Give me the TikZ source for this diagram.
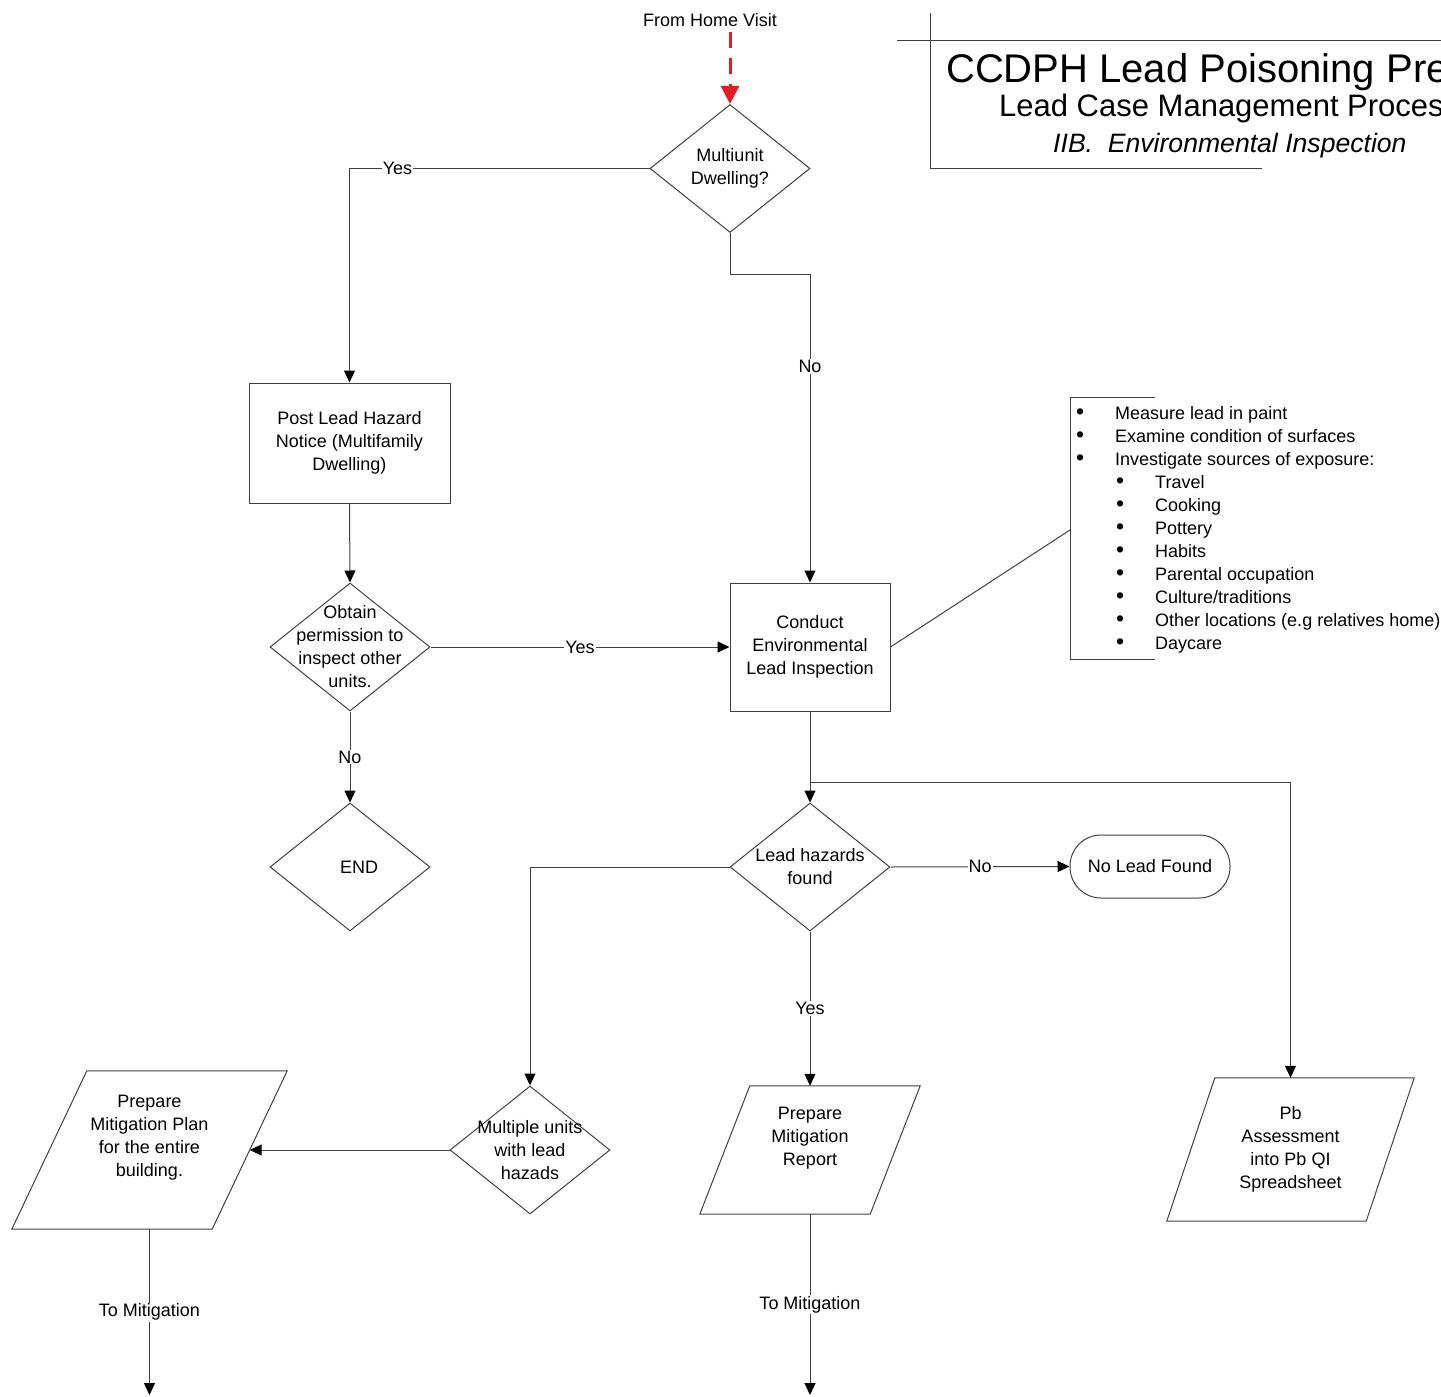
\documentclass[tikz,border=0pt]{standalone}
\usepackage{fontspec}
\setmainfont{Liberation Sans}
\usetikzlibrary{arrows.meta,shapes.geometric}
\definecolor{homered}{RGB}{228,28,36}
\newcommand{\listbullet}{\makebox[39pt][l]{\fontsize{23}{23}\selectfont\textbullet}}
\tikzset{
  flownode/.style = {align=center, inner sep=0pt, text centered,
    font=\fontsize{18}{23}\selectfont},
  procbox/.style = {flownode, draw=black!75, line width=1pt},% process box
  decision/.style = {flownode, diamond, draw=black!75, line width=1pt,
    minimum width=160, minimum height=128},% decision, text put in as label
  terminal/.style = {flownode, draw=black!75, line width=1pt,
    rounded corners=31, minimum width=160, minimum height=63},
  iobox/.style = {flownode},% parallelogram, outline drawn after
  edgelab/.style = {flownode, fill=white, inner sep=1pt},
  listitem/.style = {flownode, anchor=base west, align=left},
  flowline/.style = {draw=black!75, line width=1pt},
  flowarrow/.style = {flowline, -{Triangle[length=12pt,width=11pt,black]}},
  homearrow/.style = {draw=homered, line width=3pt,
    dash pattern=on 16pt off 10pt,
    -{Triangle[length=18pt,width=18pt,homered]}},
}

\begin{document}
\begin{tikzpicture}[x=1pt,y=-1pt]
\useasboundingbox (0,0) rectangle (1441,1397);
\clip (0,0) rectangle (1441,1397);

% title block
\draw[flowline] (897,41) -- (1441,41);
\draw[flowline] (930,13) -- (930,168) -- (1262,168);
\node[anchor=base west, inner sep=0pt, font=\fontsize{40}{44}\selectfont] (titlemain) at (946,82) {CCDPH Lead Poisoning Pre};
\node[anchor=base west, inner sep=0pt, font=\fontsize{31}{35}\selectfont] (titlesub) at (999,117) {Lead Case Management Proces};
\node[anchor=base west, inner sep=0pt, font=\fontsize{26.6}{31}\itshape] (titlesec) at (1053,152) {IIB.\ \ Environmental Inspection};

% nodes
\node[flownode] (fromhome) at (710,20) {From Home Visit};
\coordinate (homestart) at (730,32);
\node[decision, label={[flownode]center:{Multiunit\\Dwelling?}}] (multiunit) at (730,168.5) {};
\node[procbox, minimum width=201, minimum height=120] (postnotice) at (349.5,443) {Post Lead Hazard\\Notice (Multifamily\\Dwelling)};
\node[decision, label={[flownode]center:{Obtain\\permission to\\inspect other\\units.}}] (obtain) at (350,647) {};
\node[decision, label={[flownode,xshift=9]center:{END}}] (endnode) at (350,867) {};
\node[procbox, minimum width=160, minimum height=128] (conduct) at (810,647) {Conduct\\Environmental\\Lead Inspection};
\node[decision, label={[flownode]center:{Lead hazards\\found}}] (leadfound) at (810,867) {};
\node[terminal] (nolead) at (1150,866.5) {No Lead Found};
\node[decision, label={[flownode]center:{Multiple units\\with lead\\hazads}}] (multiple) at (530,1150) {};

\node[iobox, minimum width=275, minimum height=158,
  label={[flownode,yshift=12]center:{Prepare\\Mitigation Plan\\for the entire\\building.}}] (plan) at (149.5,1150) {};
\draw[flowline] ([xshift=75]plan.north west) -- (plan.north east) -- ([xshift=-75]plan.south east) -- (plan.south west) -- cycle;
\node[iobox, minimum width=220, minimum height=128,
  label={[flownode,yshift=12]center:{Prepare\\Mitigation\\Report}}] (report) at (810,1150) {};
\draw[flowline] ([xshift=50]report.north west) -- (report.north east) -- ([xshift=-50]report.south east) -- (report.south west) -- cycle;
\node[iobox, minimum width=247, minimum height=143,
  label={[flownode]center:{Pb\\Assessment\\into Pb QI\\Spreadsheet}}] (pbassess) at (1290.5,1149.5) {};
\draw[flowline] ([xshift=48]pbassess.north west) -- (pbassess.north east) -- ([xshift=-48]pbassess.south east) -- (pbassess.south west) -- cycle;

% inspection checklist
\coordinate (calloutend) at (1070,530);
\draw[flowline] (1155,397) -| (1070,659) -- (1155,659);
\foreach \entry [count=\i] in {Measure lead in paint, Examine condition of surfaces,
    Investigate sources of exposure:}
  \node[listitem] at (1076,{419.5+23*(\i-1)}) {\listbullet\entry};
\foreach \entry [count=\i] in {Travel, Cooking, Pottery, Habits, Parental occupation,
    Culture/traditions, Other locations (e.g relatives home), Daycare}
  \node[listitem] at (1116,{488.5+23*(\i-1)}) {\listbullet\entry};

% connectors
\draw[homearrow] (homestart) -- (multiunit.north);
\draw[flowarrow] (multiunit.west) -| node[edgelab, pos=0.42] {Yes} (postnotice.north);
\draw[flowarrow] (multiunit.south) -- ++(0,41) -| node[edgelab, pos=0.65] {No} (conduct.north);
\draw[flowarrow] (postnotice.south) -- (obtain.north);
\draw[flowarrow] (obtain.east) -- node[edgelab] {Yes} (conduct.west);
\draw[flowarrow] (obtain.south) -- node[edgelab] {No} (endnode.north);
\draw[flowline] (conduct.east) -- (calloutend);
\draw[flowarrow] (conduct.south) -- (leadfound.north);
\coordinate (branch) at ([yshift=-71]conduct.south);
\draw[flowarrow] (branch) -| (pbassess.north);
\draw[flowarrow] (leadfound.east) -- node[edgelab] {No} (nolead.west);
\draw[flowarrow] (leadfound.west) -| (multiple.north);
\draw[flowarrow] (leadfound.south) -- node[edgelab] {Yes} (report.north);
\coordinate (planright) at ([xshift=-37.5]plan.east);
\draw[flowarrow] (multiple.west) -- (planright);
\coordinate (planout) at (149.5,1395);
\draw[flowarrow] (plan.south) -- node[edgelab] {To Mitigation} (planout);
\coordinate (reportout) at (810,1395);
\draw[flowarrow] (report.south) -- node[edgelab] {To Mitigation} (reportout);
\end{tikzpicture}
\end{document}
